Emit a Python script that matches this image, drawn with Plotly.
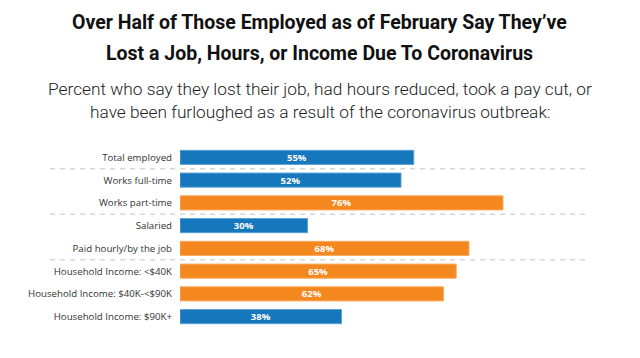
import plotly.graph_objects as go

categories = [
    "Total employed",
    "Works full-time",
    "Works part-time",
    "Salaried",
    "Paid hourly/by the job",
    "Household Income: <$40K",
    "Household Income: $40K-<$90K",
    "Household Income: $90K+",
]
values = [55, 52, 76, 30, 68, 65, 62, 38]
groups = ["blue", "blue", "orange", "blue", "orange", "orange", "orange", "blue"]
separators_after = [0, 2, 4]

title_lines = [
    "Over Half of Those Employed as of February Say They\u2019ve",
    "Lost a Job, Hours, or Income Due To Coronavirus",
]
subtitle_lines = [
    "Percent who say they lost their job, had hours reduced, took a pay cut, or",
    "have been furloughed as a result of the coronavirus outbreak:",
]

fill = {"blue": "#1677BD", "orange": "#F5871F"}
edge = {"blue": "#5AA0D4", "orange": "#F9AA60"}

OFF = 8  # page body margin
W, H = 640 - OFF, 358 - OFF
# target plot area in page pixels
P_LEFT, P_RIGHT, P_TOP, P_BOTTOM = 180, 605.5, 145.6, 328.4
ML = P_LEFT - OFF
MR = W - (P_RIGHT - OFF)
MT = P_TOP - OFF
MB = H - (P_BOTTOM - OFF)
plot_h = H - MT - MB
plot_w = W - ML - MR


def py(pix):
    return (P_BOTTOM - pix) / plot_h


def px(pix):
    return (pix - P_LEFT) / plot_w


fig = go.Figure()
fig.add_trace(go.Bar(
    x=values,
    y=categories,
    orientation="h",
    marker=dict(color=[fill[g] for g in groups],
                line=dict(color=[edge[g] for g in groups], width=1)),
    text=[f"{v}%" for v in values],
    textposition="inside",
    insidetextanchor="middle",
    constraintext="none",
    textfont=dict(family="Open Sans", size=9.5, color="white", weight="bold"),
    width=0.62,
    hoverinfo="skip",
))

for s in separators_after:
    fig.add_shape(type="line", xref="paper", yref="y",
                  x0=px(50), x1=px(590), y0=s + 0.5, y1=s + 0.5,
                  line=dict(color="#D6D6D6", width=1.5, dash="5px,5px"))

for line, ypix in zip(title_lines, [22, 53]):
    fig.add_annotation(
        text=f"<b>{line}</b>",
        xref="paper", yref="paper", x=px(320), y=py(ypix),
        xanchor="center", yanchor="middle", showarrow=False,
        font=dict(family="Roboto", size=19.5, color="#111111"),
    )

for line, ypix in zip(subtitle_lines, [88, 111]):
    fig.add_annotation(
        text=line,
        xref="paper", yref="paper", x=px(320), y=py(ypix),
        xanchor="center", yanchor="middle", showarrow=False,
        font=dict(family="Roboto", size=17.3, color="#222222", weight=300),
    )

fig.update_layout(
    width=W, height=H,
    margin=dict(l=ML, r=MR, t=MT, b=MB, autoexpand=False),
    paper_bgcolor="white", plot_bgcolor="white",
    showlegend=False,
    font=dict(family="Open Sans", size=10, color="#333333"),
    xaxis=dict(range=[0, 100], visible=False, fixedrange=True),
    yaxis=dict(autorange="reversed", showgrid=False, showline=False,
               ticks="", ticklabelstandoff=7, automargin=False,
               tickfont=dict(family="Open Sans", size=9.7, color="#333333")),
)

fig.write_html("out.html")
